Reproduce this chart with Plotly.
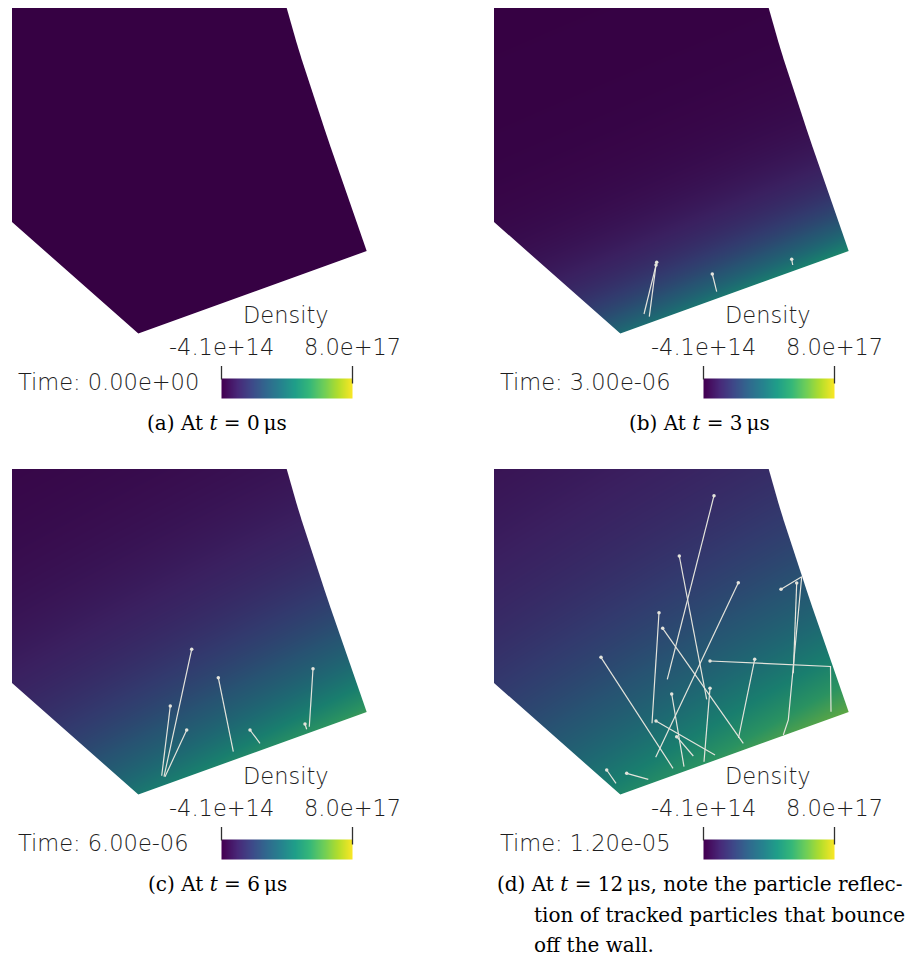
import numpy as np
import plotly.graph_objects as go
import plotly.colors as pc

# ---------------------------------------------------------------- data
DENSITY_MIN = -4.1e14
DENSITY_MAX = 8.0e17

panel_letters = ["a", "b", "c", "d"]
time_s = [0.0, 3.0e-6, 6.0e-6, 1.2e-5]
time_us = [0, 3, 6, 12]

# Domain outline in view coordinates (y grows downwards)
wall_start = (138.3, 333.5)          # emitting wall, lower corner
wall_end = (366.7, 251.0)            # emitting wall, outer corner
outer_x = [286.7, 291.5, 296.6, 301.9, 307.4, 313.0, 318.8, 324.7,
           330.6, 336.6, 342.6, 348.6, 354.6, 360.7, 366.7]   # curved outer boundary
outer_y = [8.0, 25.4, 42.7, 60.1, 77.4, 94.8, 112.1, 129.5,
           146.9, 164.2, 181.6, 198.9, 216.3, 233.6, 251.0]
inlet_x = [12.0, 138.3]              # straight lower-left boundary
inlet_y = [222.0, 333.5]
view_x = [12.0, 368.0]               # clipping window of the view
view_y = [8.0, 336.0]

# Density profile off the wall at each output time
peak_density = [0.0, 3.7e17, 4.2e17, 4.8e17]    # m^-3 at the wall
decay_length = [1.0, 52.0, 108.0, 160.0]        # view units
along_wall_gain = [0.0, 0.30, 0.35, 0.32]       # growth towards outer corner

# Tracked particle paths, head position first
tracks = [
    [],
    [
        ([174.7, 162.0], [262.3, 314.0]),
        ([174.0, 167.3], [265.0, 316.7]),
        ([230.3, 234.7], [274.0, 291.7]),
        ([309.7, 310.7], [259.3, 265.0]),
    ],
    [
        ([191.7, 164.0], [188.3, 315.7]),
        ([170.3, 161.7], [245.0, 314.7]),
        ([186.7, 165.0], [269.0, 315.7]),
        ([218.3, 233.3], [216.7, 290.7]),
        ([250.0, 260.0], [269.0, 282.3]),
        ([313.0, 309.3], [207.7, 265.7]),
        ([305.0, 306.7], [263.0, 268.3]),
    ],
    [
        ([232.0, 185.3], [34.7, 218.3]),
        ([197.3, 224.7], [95.0, 238.3]),
        ([256.3, 173.7], [121.7, 296.3]),
        ([177.0, 170.0], [151.7, 262.3]),
        ([180.7, 261.3], [167.3, 282.3]),
        ([119.0, 191.0], [196.3, 307.3]),
        ([228.0, 348.5, 349.0], [200.0, 205.5, 250.7]),
        ([272.7, 256.5], [198.3, 277.0]),
        ([299.0, 319.7, 306.3, 301.3], [128.3, 115.7, 259.0, 274.0]),
        ([314.7, 311.3], [122.0, 212.3]),
        ([228.0, 222.0], [227.3, 300.7]),
        ([189.7, 202.0], [233.0, 305.7]),
        ([174.0, 233.0], [260.0, 294.0]),
        ([194.7, 211.3], [275.7, 295.0]),
        ([124.7, 134.0], [309.0, 322.3]),
        ([144.7, 166.3], [312.3, 318.3]),
    ],
]

caption_extra = ["", "", "", ", note the particle reflec-"]
caption_more = ["tion of tracked particles that bounce", "off the wall."]

# ---------------------------------------------------------------- style
W, H = 916, 960
PANEL_W = [458, 434, 458, 434]
PANEL_H = [461, 461, 499, 499]
PANEL_X0 = [0, 482, 0, 482]
PANEL_Y0 = [0, 0, 461, 461]

LIGHTING = 0.80
TEXT_FONT = "DejaVu Sans"
CAPTION_FONT = "DejaVu Serif"
TEXT_COLOR = "#1e1e1e"
TRACK_COLOR = "#e4e4dc"

CB_X = (221.5, 352.5)
CB_Y = (378.5, 398.5)

viridis = pc.sequential.Viridis


def shade(hexcol, f):
    r, g, b = pc.hex_to_rgb(hexcol)
    return f"rgb({r * f:.0f},{g * f:.0f},{b * f:.0f})"


lit_scale = [[i / (len(viridis) - 1), shade(c, LIGHTING)] for i, c in enumerate(viridis)]
bar_scale = [[i / (len(viridis) - 1), c] for i, c in enumerate(viridis)]


def density_field(k, xs, ys):
    X, Y = np.meshgrid(xs, ys)
    px, py = X - wall_start[0], Y - wall_start[1]
    wx, wy = wall_end[0] - wall_start[0], wall_end[1] - wall_start[1]
    length = np.hypot(wx, wy)
    ux, uy = wx / length, wy / length
    dist = np.clip(px * uy - py * ux, 0, None)   # distance into the domain
    s = (px * ux + py * uy) / length              # position along the wall
    return peak_density[k] * np.exp(-dist / decay_length[k]) * (1 + along_wall_gain[k] * s)


fig = go.Figure()

step = 2.0
xs = np.arange(view_x[0] + step / 2, view_x[1], step)
ys = np.arange(view_y[0] + step / 2, view_y[1], step)

for k in range(4):
    sfx = "" if k == 0 else str(k + 1)
    xa, ya = "x" + sfx, "y" + sfx

    # density on the mesh
    z = density_field(k, xs, ys)
    fig.add_trace(go.Heatmap(
        x=xs, y=ys, z=z, zmin=DENSITY_MIN, zmax=DENSITY_MAX,
        colorscale=lit_scale, zsmooth="best", showscale=False,
        hoverinfo="skip", xaxis=xa, yaxis=ya))

    # blank out everything outside the domain
    pad = 3
    right_x = outer_x + [view_x[1] + pad, view_x[1] + pad, outer_x[0]]
    right_y = outer_y + [outer_y[-1], view_y[0] - pad, view_y[0] - pad]
    low_x = [view_x[0] - pad] + inlet_x + [wall_end[0], view_x[1] + pad,
                                           view_x[1] + pad, view_x[0] - pad]
    low_y = [inlet_y[0]] + inlet_y + [wall_end[1], wall_end[1],
                                      view_y[1] + pad, view_y[1] + pad]
    for mx, my in ((right_x, right_y), (low_x, low_y)):
        fig.add_trace(go.Scatter(
            x=mx, y=my, mode="lines", fill="toself", fillcolor="white",
            line=dict(width=0, color="white"), hoverinfo="skip",
            xaxis=xa, yaxis=ya))

    # particle tracks
    if tracks[k]:
        lx, ly, hx, hy = [], [], [], []
        for tx, ty in tracks[k]:
            lx += tx + [None]
            ly += ty + [None]
            hx.append(tx[0])
            hy.append(ty[0])
        fig.add_trace(go.Scatter(
            x=lx, y=ly, mode="lines", line=dict(color=TRACK_COLOR, width=1.2),
            hoverinfo="skip", xaxis=xa, yaxis=ya))
        fig.add_trace(go.Scatter(
            x=hx, y=hy, mode="markers",
            marker=dict(color=TRACK_COLOR, size=3.5, line=dict(width=0)),
            hoverinfo="skip", xaxis=xa, yaxis=ya))

    # colour legend strip
    n = 131
    bx = np.linspace(CB_X[0] + 0.5, CB_X[1] - 0.5, n)
    bz = np.linspace(DENSITY_MIN, DENSITY_MAX, n)
    fig.add_trace(go.Heatmap(
        x=bx, y=[CB_Y[0] + 5, CB_Y[1] - 5], z=[bz, bz],
        zmin=DENSITY_MIN, zmax=DENSITY_MAX, colorscale=bar_scale,
        zsmooth="best", showscale=False, hoverinfo="skip",
        xaxis=xa, yaxis=ya))
    fig.add_trace(go.Scatter(
        x=[CB_X[0], CB_X[0], None, CB_X[1], CB_X[1]],
        y=[366, CB_Y[0] + 1, None, 366, CB_Y[0] + 5],
        mode="lines", line=dict(color="#303030", width=1.3),
        hoverinfo="skip", xaxis=xa, yaxis=ya))

    tfont = dict(family=TEXT_FONT, size=22.5, color=TEXT_COLOR, weight=300)
    anns = [
        dict(x=286, y=314.5, text="Density", xanchor="center"),
        dict(x=CB_X[0], y=346.5, text=f"{DENSITY_MIN:.1e}", xanchor="center"),
        dict(x=CB_X[1], y=346.5, text=f"{DENSITY_MAX:.1e}", xanchor="center"),
        dict(x=16, y=382, text=f"Time: {time_s[k]:.2e}", xanchor="left"),
    ]
    for a in anns:
        fig.add_annotation(xref=xa, yref=ya, yanchor="middle", showarrow=False,
                           font=tfont, **a)

    cfont = dict(family=CAPTION_FONT, size=20, color="#000000")
    cap = f"({panel_letters[k]}) At <i>t</i> = {time_us[k]}\u2009μs{caption_extra[k]}"
    if caption_extra[k]:
        fig.add_annotation(xref=xa, yref=ya, x=13, y=423, text=cap,
                           xanchor="left", yanchor="middle", showarrow=False, font=cfont)
        for j, line in enumerate(caption_more):
            fig.add_annotation(xref=xa, yref=ya, x=50, y=454 + 30 * j, text=line,
                               xanchor="left", yanchor="middle", showarrow=False,
                               font=cfont)
    else:
        fig.add_annotation(xref=xa, yref=ya, x=217, y=423, text=cap,
                           xanchor="center", yanchor="middle", showarrow=False,
                           font=cfont)

    # axes: one view unit per pixel
    x_dom = [PANEL_X0[k] / W, (PANEL_X0[k] + PANEL_W[k]) / W]
    y_dom = [1 - (PANEL_Y0[k] + PANEL_H[k]) / H, 1 - PANEL_Y0[k] / H]
    axis_common = dict(visible=False, fixedrange=True, showgrid=False, zeroline=False)
    fig.layout["xaxis" + sfx] = dict(domain=x_dom, range=[0, PANEL_W[k]],
                                     anchor=ya, **axis_common)
    fig.layout["yaxis" + sfx] = dict(domain=y_dom, range=[PANEL_H[k], 0],
                                     anchor=xa, **axis_common)

fig.update_layout(
    width=W, height=H, margin=dict(l=0, r=0, t=0, b=0),
    paper_bgcolor="white", plot_bgcolor="white", showlegend=False,
)

fig.write_html("out.html")
